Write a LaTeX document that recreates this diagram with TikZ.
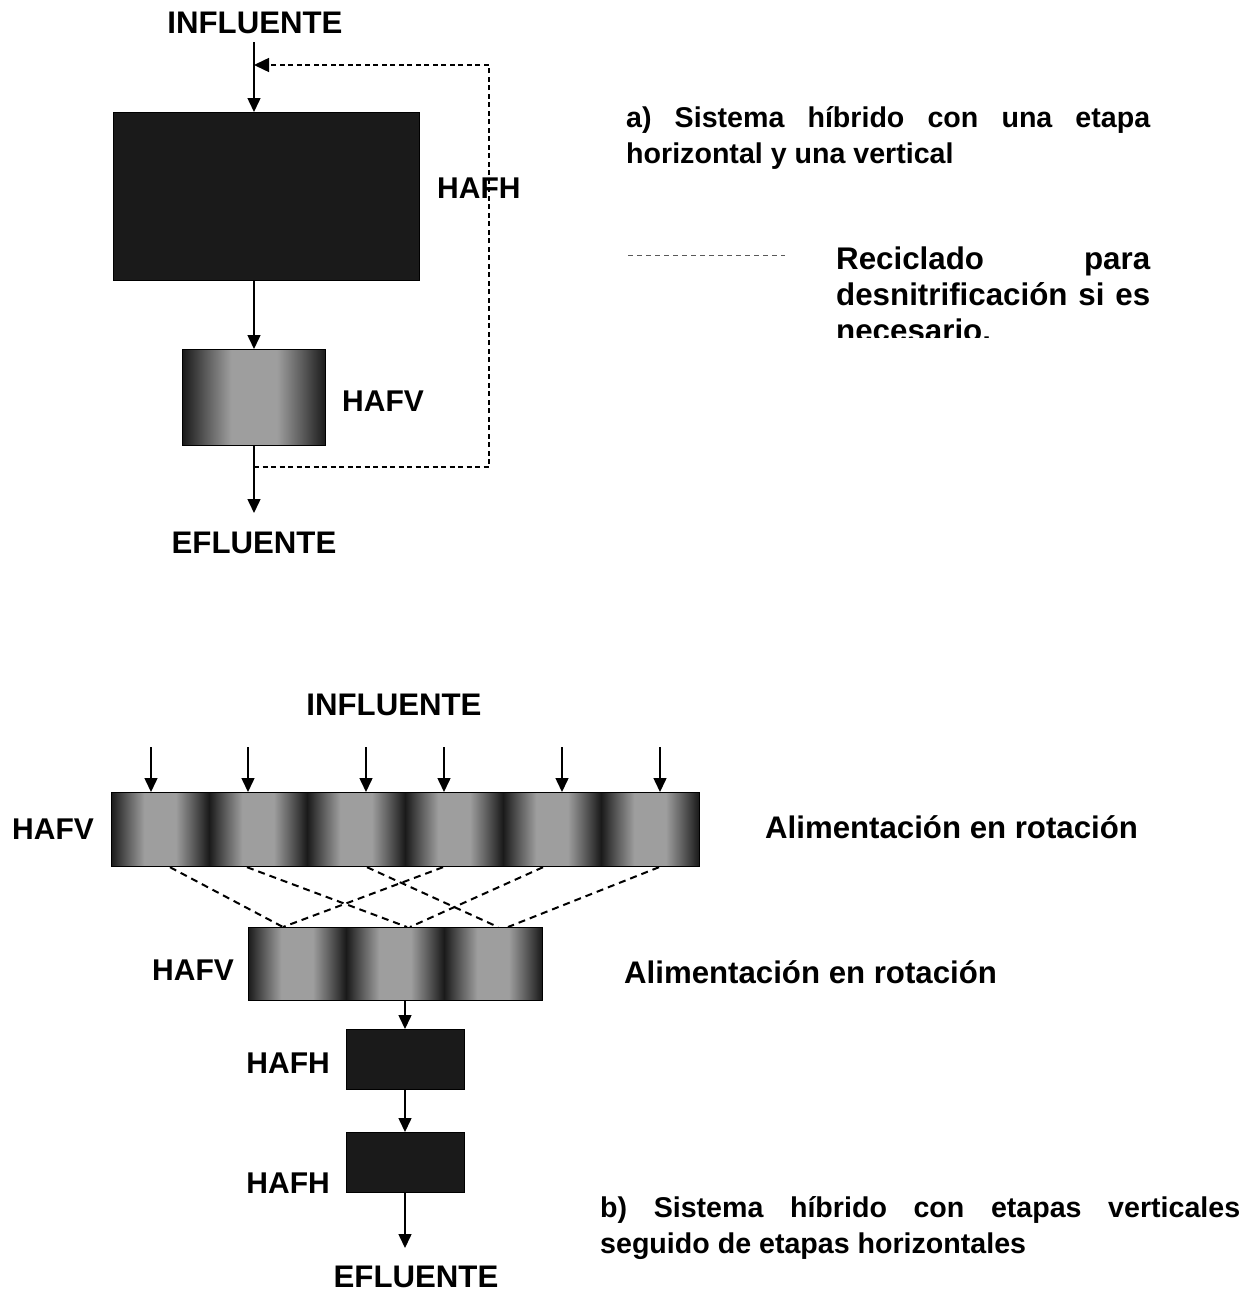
\documentclass[tikz,border=0pt]{standalone}
\usepackage{fontspec}
\setmainfont{Liberation Sans}
\usetikzlibrary{arrows.meta,calc}
\definecolor{dk}{HTML}{1A1A1A}
\definecolor{md}{HTML}{5A5A5A}
\definecolor{lt}{HTML}{9E9E9E}
\pgfdeclarehorizontalshading{vband}{100bp}{color(0bp)=(dk); color(25bp)=(dk); color(33bp)=(md); color(42bp)=(lt); color(58bp)=(lt); color(67bp)=(md); color(75bp)=(dk); color(100bp)=(dk)}
\newcommand{\parsetup}{\hyphenpenalty=10000\relax\tolerance=9999\relax}
\begin{document}
\begin{tikzpicture}[x=1pt,y=-1pt,
  lab/.style={font=\fontsize{30}{36}\selectfont\bfseries, inner sep=0},
  bigl/.style={font=\fontsize{31.2}{36}\selectfont\bfseries, inner sep=0},
  para/.style={font=\fontsize{28.6}{36}\selectfont\bfseries\parsetup, inner sep=0, align=justify, anchor=north west},
  arr/.style={line width=1.5pt, -{Triangle[length=14pt,width=13pt]}},
  rec/.style={line width=1.5pt, dash pattern=on 5pt off 3.5pt},
  cross/.style={line width=2pt, dash pattern=on 7pt off 5pt},
  box/.style={draw=black, line width=1.2pt, inner sep=0, anchor=north west},
]
\useasboundingbox[fill=white] (0,0) rectangle (1259,1293);

% ---------------- part a ----------------
\node[bigl, anchor=base] (infA) at (255,33) {INFLUENTE};
\node[box, fill=dk, minimum width=306pt, minimum height=168pt] (hafhA) at (113,112) {};
\node[box, shading=vband, minimum width=143pt, minimum height=96pt] (hafvA) at (182,349) {};
\node[lab, anchor=base west] (lhafhA) at (437,198) {HAFH};
\node[lab, anchor=base west] (lhafvA) at (342,411) {HAFV};
\node[bigl, anchor=base] (effA) at (254,553) {EFLUENTE};

\coordinate (inA) at (254,42);
\coordinate (outA) at (254,513);
\draw[arr] (inA) -- (inA |- hafhA.north);
\draw[arr] (inA |- hafhA.south) -- (inA |- hafvA.north);
\draw[arr] (inA |- hafvA.south) -- (outA);

\coordinate (r0) at (254,467);
\coordinate (r1) at (489,467);
\coordinate (r2) at (489,65);
\coordinate (r3) at (254,65);
\draw[rec, -{Triangle[length=15pt,width=14pt]}] (r0) -- (r1) -- (r2) -- (r3);

\node[para, text width=524pt] (txtA) at (626,106) {a) Sistema híbrido con una etapa\linebreak horizontal y una vertical};

\coordinate (lg0) at (628,255);
\coordinate (lg1) at (785,255);
\draw[line width=1pt, black!65, dash pattern=on 5pt off 4pt] (lg0) -- (lg1);
\begin{scope}
\clip (830,230) rectangle (1165,337);
\node[para, font=\fontsize{31.3}{36}\selectfont\bfseries\parsetup, text width=314pt] (recic) at (836,247) {Reciclado para\linebreak desnitrificación si es\linebreak necesario.};
\end{scope}

% ---------------- part b ----------------
\node[bigl, anchor=base] (infB) at (394,715) {INFLUENTE};
\foreach \i in {0,...,5} \shade[shading=vband] ({111+\i*98},792) rectangle ++(98,74);
\node[box, minimum width=588pt, minimum height=74pt] (hv1) at (111,792) {};
\foreach \i in {0,1,2} \shade[shading=vband] ({248+\i*98},927) rectangle ++(98,73);
\node[box, minimum width=294pt, minimum height=73pt] (hv2) at (248,927) {};

\foreach \x in {151,248,366,444,562,660} \draw[arr] (\x,747) -- (\x,747 |- hv1.north);
\foreach \a/\b in {170/283,247/407,367/498,443/283,543/410,659/508}
  \draw[cross] (\a,0 |- hv1.south) -- (\b,0 |- hv2.north);

\node[lab, anchor=base west] (lhv1) at (12,839) {HAFV};
\node[bigl, anchor=base west] (alim1) at (765,838) {Alimentación en rotación};
\node[lab, anchor=base west] (lhv2) at (152,980) {HAFV};
\node[bigl, anchor=base west] (alim2) at (624,983) {Alimentación en rotación};

\node[box, fill=dk, minimum width=118pt, minimum height=60pt] (hh1) at (346,1029) {};
\node[box, fill=dk, minimum width=118pt, minimum height=60pt] (hh2) at (346,1132) {};
\coordinate (outB) at (405,1248);
\draw[arr] (405,0 |- hv2.south) -- (405,0 |- hh1.north);
\draw[arr] (405,0 |- hh1.south) -- (405,0 |- hh2.north);
\draw[arr] (405,0 |- hh2.south) -- (outB);

\node[lab, anchor=base east] (lhh1) at (330,1073) {HAFH};
\node[lab, anchor=base east] (lhh2) at (330,1193) {HAFH};
\node[bigl, anchor=base] (effB) at (416,1287) {EFLUENTE};

\node[para, text width=640pt] (txtB) at (600,1196) {b) Sistema híbrido con etapas verticales\linebreak seguido de etapas horizontales};
\end{tikzpicture}
\end{document}
